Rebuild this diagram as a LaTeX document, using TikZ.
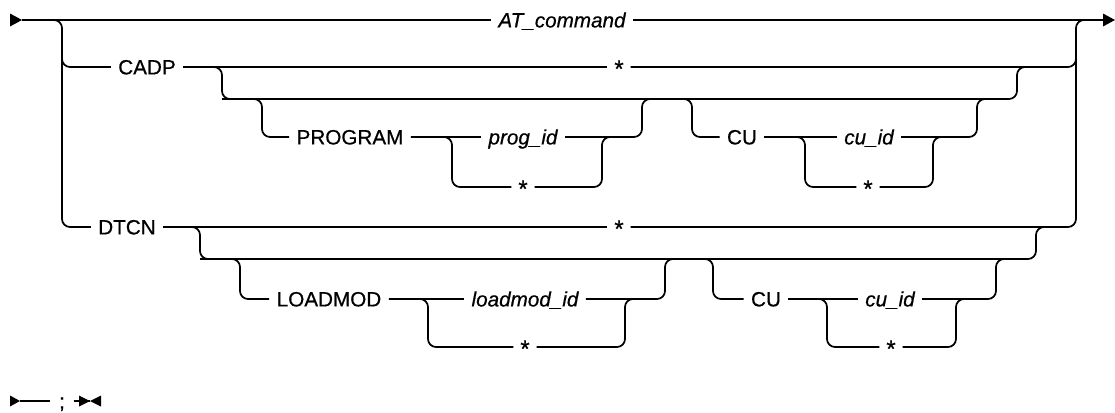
\documentclass[tikz,border=0pt]{standalone}
\usepackage{fontspec}
\setmainfont{Liberation Sans}
\newfontfamily\lblfont{Liberation Sans}[FakeBold=0.6]
\usetikzlibrary{arrows.meta}
\begin{document}
\begin{tikzpicture}[x=0.75pt,y=-0.75pt,line width=1.3pt,
  rc/.style={rounded corners=6pt},
  lbl/.style={inner xsep=5pt,inner ysep=0pt,text height=11.1pt,text depth=0pt,font=\lblfont\fontsize{15.5}{18}\selectfont},
  ilbl/.style={lbl,font=\lblfont\fontsize{15.5}{18}\selectfont\itshape},
  star/.style={lbl,inner xsep=4.5pt,font=\lblfont\fontsize{18}{20}\selectfont,text height=15.1pt},
  tri/.style={fill=black,draw=none}]
\useasboundingbox (0,0) rectangle (1115,412);

% ---- text nodes
\node[ilbl] (at) at (562,20) {AT\_command};
\node[lbl] (cadp) at (147,67) {CADP};
\node[star] (cstar) at (619,67) {*};
\node[lbl] (prog) at (350,137) {PROGRAM};
\node[ilbl] (pid) at (523,137) {prog\_id};
\node[star] (pstar) at (523,187) {*};
\node[lbl] (cu1) at (742,137) {CU};
\node[ilbl] (cid1) at (869,137) {cu\_id};
\node[star] (cst1) at (868,187) {*};
\node[lbl] (dtcn) at (127,227) {DTCN};
\node[star] (dstar) at (619,227) {*};
\node[lbl] (lmod) at (329,299) {LOADMOD};
\node[ilbl] (lid) at (525,299) {loadmod\_id};
\node[star] (lstar) at (525,347) {*};
\node[lbl] (cu2) at (766,299) {CU};
\node[ilbl] (cid2) at (890,299) {cu\_id};
\node[star] (cst2) at (891,347) {*};
\node[lbl,inner xsep=6pt] (semi) at (62,401) {;};

% ---- coordinates
\coordinate (s0) at (22,20);
\coordinate (e0) at (1104,20);
\coordinate (lv1) at (62,45);
\coordinate (lv5) at (62,227);
\coordinate (rv1) at (1076,40);
\coordinate (rv0) at (1076,20);
% CADP
\coordinate (v1) at (222,99);
\coordinate (w1) at (1017,67);
\coordinate (w1b) at (1035,67);
\coordinate (v2) at (262,137);
\coordinate (v3) at (452,187);
\coordinate (w3) at (602,137);
\coordinate (w3b) at (620,137);
\coordinate (w2) at (642,99);
\coordinate (w2b) at (660,99);
\coordinate (v4a) at (670,99);
\coordinate (v4) at (692,137);
\coordinate (v5) at (805,187);
\coordinate (w5) at (933,137);
\coordinate (w5b) at (950,137);
\coordinate (w4) at (977,99);
\coordinate (w4b) at (995,99);
% DTCN
\coordinate (u1) at (200,259);
\coordinate (x1) at (1036,227);
\coordinate (x1b) at (1055,227);
\coordinate (u2) at (240,299);
\coordinate (u3) at (428,347);
\coordinate (x3) at (625,299);
\coordinate (x3b) at (642,299);
\coordinate (x2) at (665,259);
\coordinate (x2b) at (682,259);
\coordinate (u4a) at (690,259);
\coordinate (u4) at (713,299);
\coordinate (u5) at (827,347);
\coordinate (x5) at (956,299);
\coordinate (x5b) at (972,299);
\coordinate (x4) at (996,259);
\coordinate (x4b) at (1014,259);
% bottom
\coordinate (bs) at (20,401);
\coordinate (be) at (90,401);

% ---- arrows
\fill[tri] (10,13.5) -- (s0) -- (10,26.5) -- cycle;
\fill[tri] (1103,13.5) -- (1115,20) -- (1103,26.5) -- cycle;
\fill[tri] (10,395.5) -- (bs) -- (10,406.5) -- cycle;
\fill[tri] (79,395.5) -- (be) -- (79,406.5) -- cycle;
\fill[tri] (101,395.5) -- (be) -- (101,406.5) -- cycle;

% ---- main line
\draw (s0) -- (at);
\draw (at) -- (e0);
\draw[rc] (s0) -| (lv5) -- (dtcn);
\draw[rc] (lv1) |- (cadp);
\draw[rc] (dstar) -| (rv0) -- (e0);

% ---- CADP
\draw (cadp) -- (cstar);
\draw[rc] (cstar) -| (rv1);
\draw[rc] (cadp) -| (v1) -| (w1) -- (w1b);
\draw[rc] (v1) -| (v2) -- (prog);
\draw (prog) -- (pid);
\draw[rc] (prog) -| (v3) -- (pstar);
\draw[rc] (pstar) -| (w3) -- (w3b);
\draw[rc] (pid) -| (w2) -- (w2b);
\draw[rc] (v4a) -| (v4) -- (cu1);
\draw (cu1) -- (cid1);
\draw[rc] (cu1) -| (v5) -- (cst1);
\draw[rc] (cst1) -| (w5) -- (w5b);
\draw[rc] (cid1) -| (w4) -- (w4b);

% ---- DTCN
\draw (dtcn) -- (dstar);
\draw[rc] (dtcn) -| (u1) -| (x1) -- (x1b);
\draw[rc] (u1) -| (u2) -- (lmod);
\draw (lmod) -- (lid);
\draw[rc] (lmod) -| (u3) -- (lstar);
\draw[rc] (lstar) -| (x3) -- (x3b);
\draw[rc] (lid) -| (x2) -- (x2b);
\draw[rc] (u4a) -| (u4) -- (cu2);
\draw (cu2) -- (cid2);
\draw[rc] (cu2) -| (u5) -- (cst2);
\draw[rc] (cst2) -| (x5) -- (x5b);
\draw[rc] (cid2) -| (x4) -- (x4b);

% ---- bottom
\draw (bs) -- (semi);
\draw (semi) -- (be);
\end{tikzpicture}
\end{document}
